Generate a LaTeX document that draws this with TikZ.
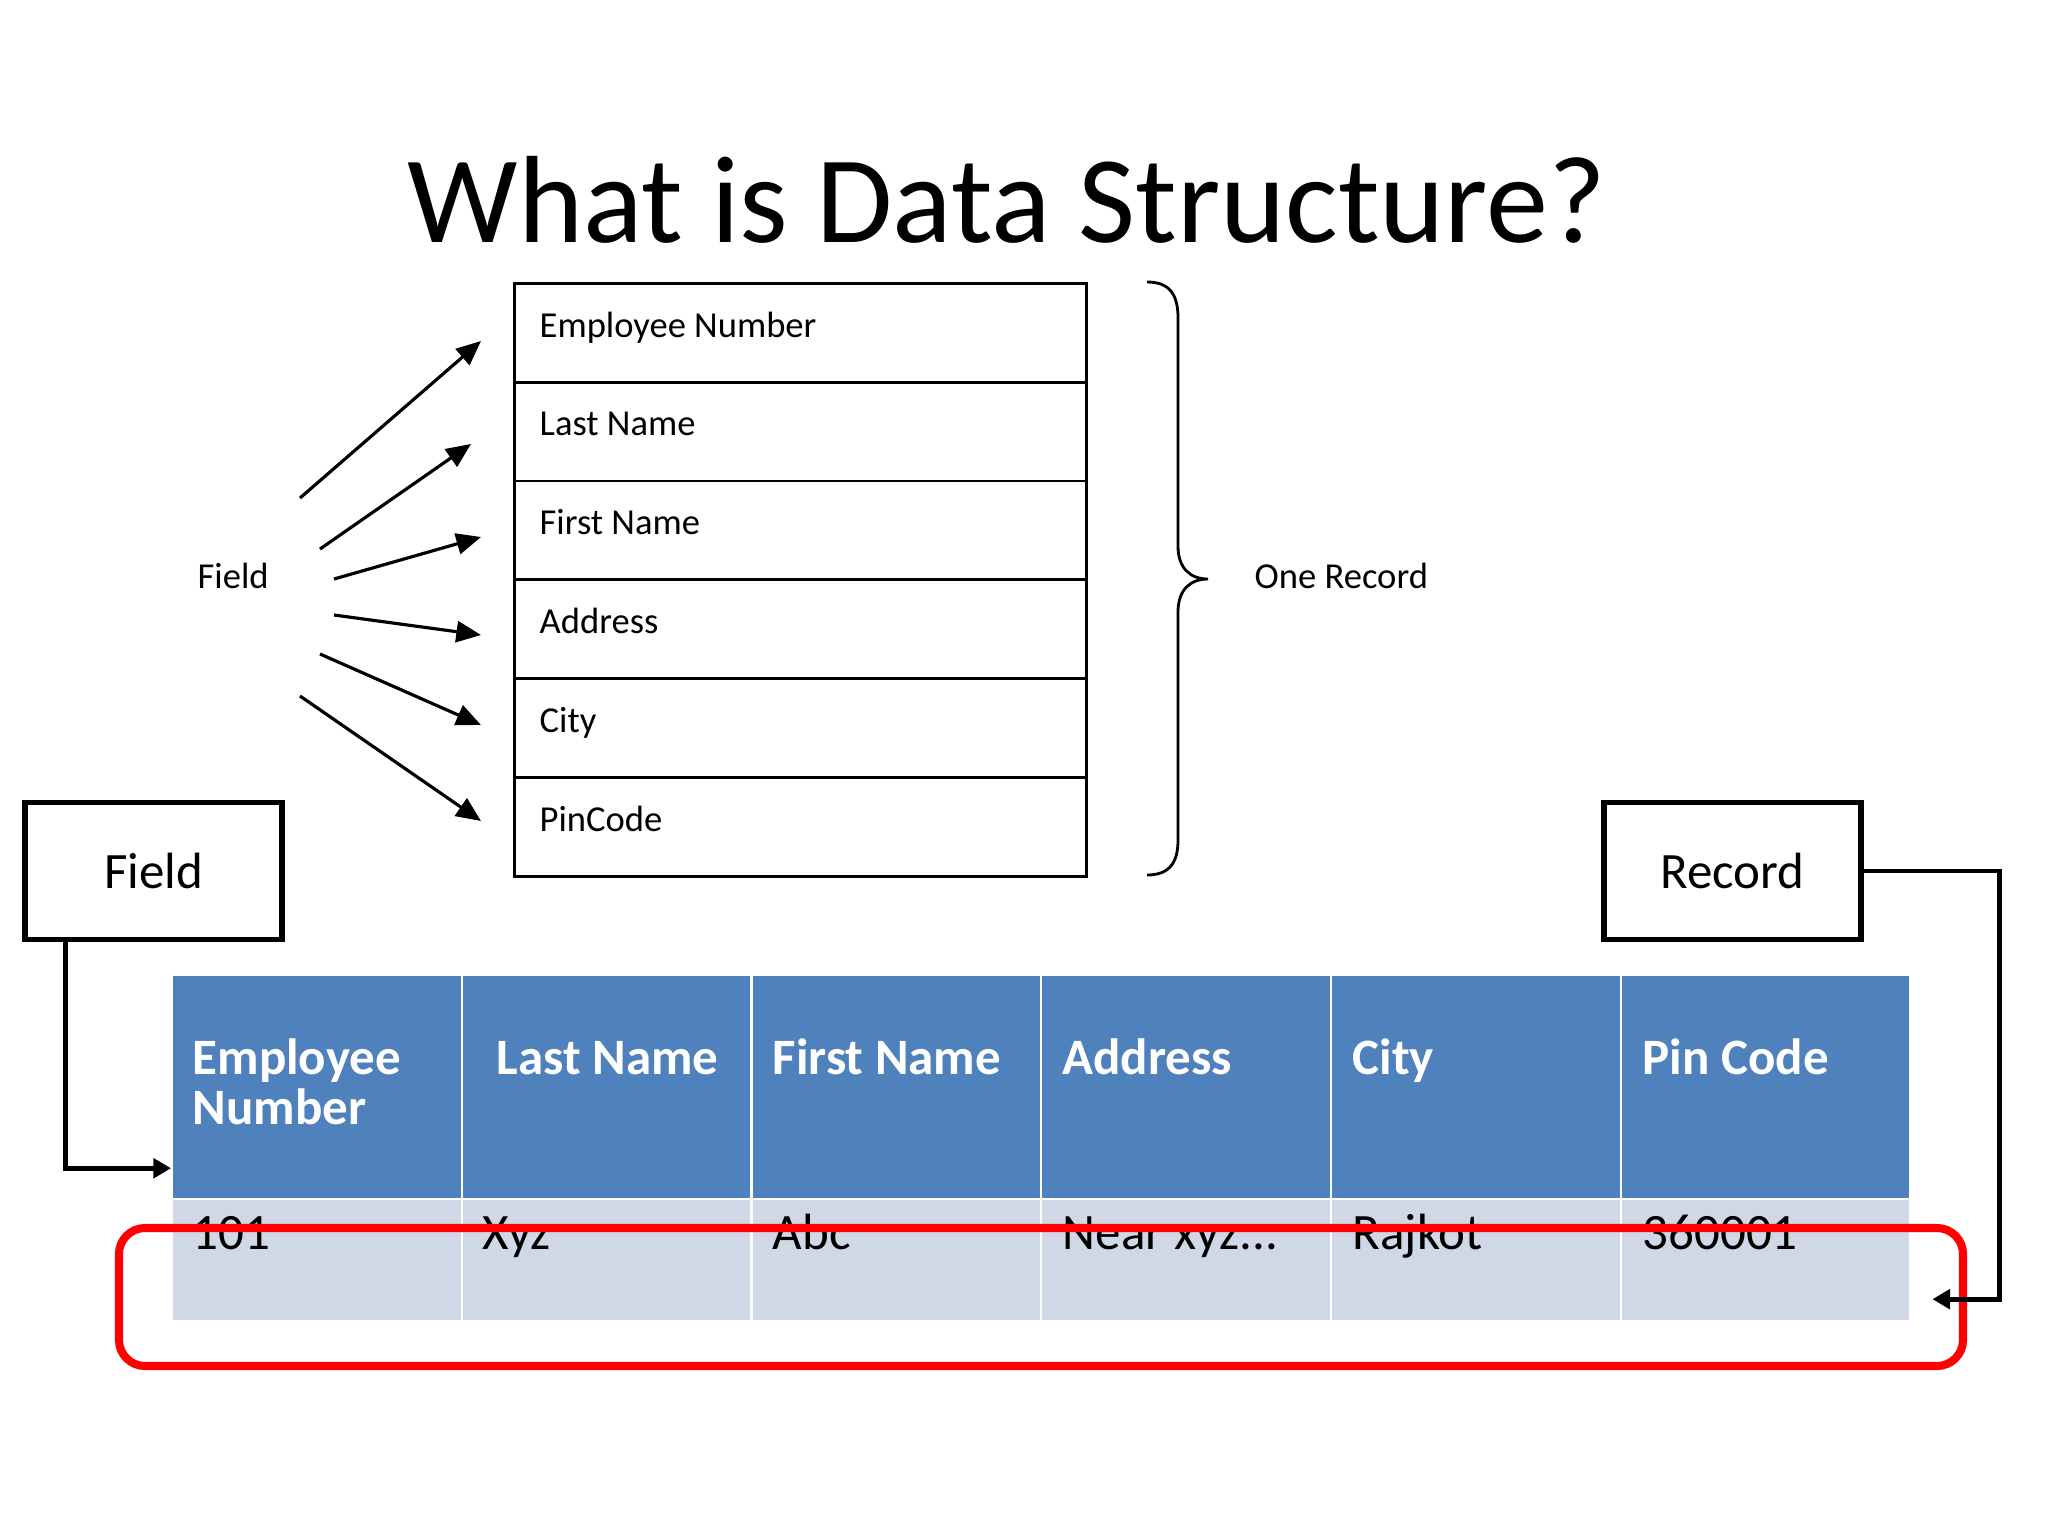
\documentclass[tikz,border=0pt]{standalone}
\usepackage{fontspec}
\setmainfont{Carlito}
\usetikzlibrary{arrows.meta,calc}
\definecolor{hdrblue}{HTML}{4F81BD}
\definecolor{rowblue}{HTML}{D0D8E8}
\definecolor{markred}{HTML}{FF0000}
\begin{document}
\begin{tikzpicture}[x=0.01cm,y=-0.01cm,
  smalltxt/.style={font=\fontsize{10.4}{12.5}\selectfont, inner sep=0pt, anchor=base west},
  rowbox/.style={draw, line width=0.8pt, minimum width=5.72cm, minimum height=0.988cm, inner sep=0pt, anchor=north west},
  fieldarr/.style={line width=0.9pt, -{Triangle[length=7pt,width=6pt]}},
  labelbox/.style={draw, line width=1.6pt, minimum width=2.57cm, minimum height=1.37cm, inner sep=0pt, font=\fontsize{14.5}{17}\selectfont},
  conn/.style={line width=1.4pt, -{Triangle[length=5pt,width=5.5pt]}},
  hcell/.style={fill=hdrblue, draw=white, line width=0.6pt, minimum width=2.897cm, minimum height=2.24cm, anchor=north west, inner sep=0pt},
  dcell/.style={fill=rowblue, draw=white, line width=0.6pt, minimum width=2.897cm, minimum height=1.22cm, anchor=north west, inner sep=0pt},
  htxt/.style={font=\fontsize{14.5}{14.5}\selectfont\bfseries, text=white, inner sep=0pt, anchor=base west},
  dtxt/.style={font=\fontsize{14.5}{14.5}\selectfont, inner sep=0pt, anchor=base west},
  redmark/.style={draw=markred, line width=2.3pt, rounded corners=0.26cm}
]
\useasboundingbox (0,0) rectangle (2048,1536);

% title
\node[font=\fontsize{35.3}{42}\selectfont, inner sep=0pt, anchor=base] (title) at (1007,242) {What is Data Structure?};

% record box rows
\foreach \i/\t in {1/Employee Number,2/Last Name,3/First Name,4/Address,5/City,6/PinCode}{
  \node[rowbox] (r\i) at (513,{282+(\i-1)*98.8}) {};
  \node[smalltxt] (rt\i) at (539,{337+(\i-1)*98.8}) {\t};
}

% field label and arrows
\node[smalltxt] (fieldlbl) at (197,588) {Field};
\coordinate (s1) at (300,498); \coordinate (e1) at (481,341);
\coordinate (s2) at (320,549); \coordinate (e2) at (471,444);
\coordinate (s3) at (334,579); \coordinate (e3) at (481,537);
\coordinate (s4) at (334,615); \coordinate (e4) at (481,635);
\coordinate (s5) at (320,654); \coordinate (e5) at (481,725);
\coordinate (s6) at (300,696); \coordinate (e6) at (481,821);
\foreach \i in {1,...,6}{ \draw[fieldarr] (s\i) -- (e\i); }

% brace
\draw[line width=0.8pt] (1147,282) .. controls (1170,282) and (1178,295) .. (1178,318)
  -- (1178,546) .. controls (1178,568) and (1190,579) .. (1208,579)
  .. controls (1190,579) and (1178,590) .. (1178,612)
  -- (1178,840) .. controls (1178,862) and (1170,875) .. (1147,875);
\node[smalltxt] (onerec) at (1254,588) {One Record};

% label boxes
\node[labelbox] (fbox) at (153.5,871) {Field};
\node[labelbox] (rbox) at (1732.5,871) {Record};

% table
\foreach \i in {1,...,6}{
  \node[hcell] (h\i) at ({171+(\i-1)*289.7},974) {};
  \node[dcell] (d\i) at ({171+(\i-1)*289.7},1198) {};
}
\node[htxt] (ht1a) at (192,1074) {Employee};
\node[htxt] (ht1b) at (192,1124) {Number};
\node[htxt] (ht2) at (496,1074) {Last Name};
\node[htxt] (ht3) at (772,1074) {First Name};
\node[htxt] (ht4) at (1062,1074) {Address};
\node[htxt] (ht5) at (1352,1074) {City};
\node[htxt] (ht6) at (1642,1074) {Pin Code};

\node[dtxt] (dt1) at (192,1249) {101};
\node[dtxt] (dt2) at (482,1249) {Xyz};
\node[dtxt] (dt3) at (772,1249) {Abc};
\node[dtxt] (dt4) at (1062,1249) {Near xyz...};
\node[dtxt] (dt5) at (1352,1249) {Rajkot};
\node[dtxt] (dt6) at (1642,1249) {360001};

% red highlight
\draw[redmark] (119,1228) rectangle (1963,1366);

% connectors
\coordinate (fa) at ($(h1.south west)+(0,-32)$);
\draw[conn] ([xshift=0.43cm]fbox.south west) |- (fa);
\coordinate (ra) at ($(d6.south east)+(21,-23)$);
\draw[conn] (rbox.east) -- ++(136,0) |- (ra);
\end{tikzpicture}
\end{document}
